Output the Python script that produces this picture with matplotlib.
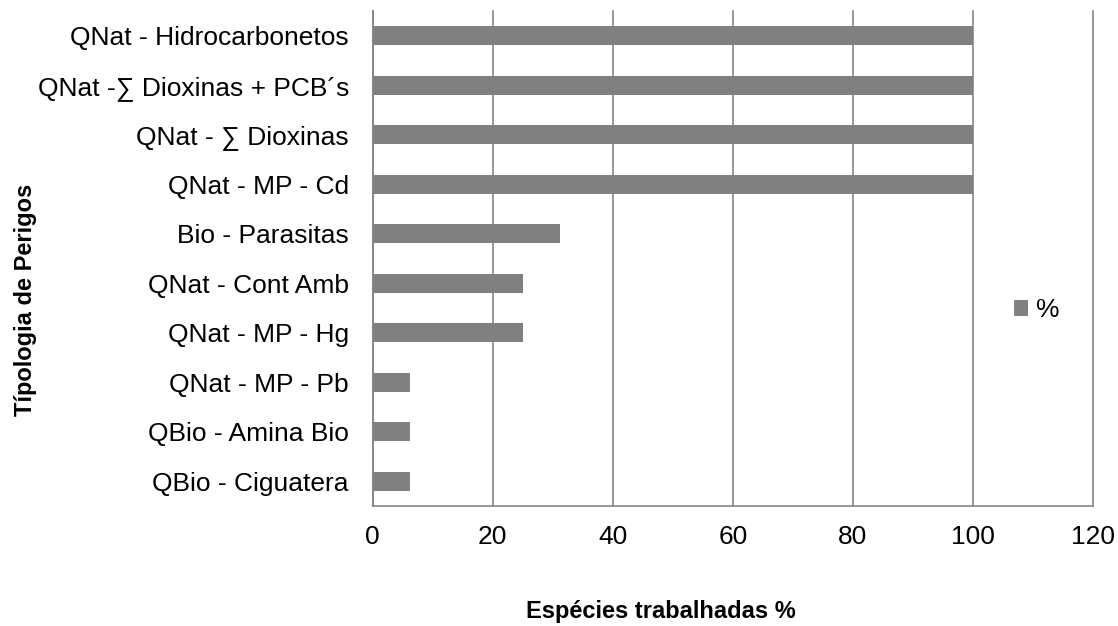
import matplotlib
matplotlib.use("Agg")
import matplotlib.pyplot as plt

plt.rcParams['font.family'] = ['Liberation Sans', 'DejaVu Sans']

categories = [
    "QBio - Ciguatera",
    "QBio - Amina Bio",
    "QNat - MP - Pb",
    "QNat - MP - Hg",
    "QNat - Cont Amb",
    "Bio - Parasitas",
    "QNat - MP - Cd",
    "QNat - \u2211 Dioxinas",
    "QNat -\u2211 Dioxinas + PCB\u00b4s",
    "QNat - Hidrocarbonetos",
]
values = [6.25, 6.25, 6.25, 25, 25, 31.25, 100, 100, 100, 100]
xticks = [0, 20, 40, 60, 80, 100, 120]

fig = plt.figure(figsize=(11.18, 6.26), dpi=100)
# plot area: x 372..1093 px, y 11..506 px (from top)
ax = fig.add_axes([0.3332, 0.1917, 0.6445, 0.7907])

ax.barh(range(len(categories)), values, height=0.39, color="#808080", label="%", zorder=3)

ax.set_xlim(0, 120)
ax.set_ylim(-0.5, len(categories) - 0.5)
ax.set_xticks(xticks)
ax.set_yticks(range(len(categories)))
ax.set_yticklabels(categories)
ax.tick_params(axis="both", length=0, labelsize=19, colors="black")
ax.tick_params(axis="x", pad=14)
ax.tick_params(axis="y", pad=17)
ax.grid(axis="x", color="#868686", linewidth=1.2, zorder=0)
for gl in ax.get_xgridlines():
    gl.set_clip_on(False)

for s in ["top", "right"]:
    ax.spines[s].set_visible(False)
for s in ["left", "bottom"]:
    ax.spines[s].set_color("#868686")
    ax.spines[s].set_linewidth(1.2)

ax.set_xlabel("Espécies trabalhadas %", fontsize=17, fontweight="bold")
ax.set_ylabel("Típologia de Perigos", fontsize=17, fontweight="bold")
ax.xaxis.set_label_coords(0.40, -0.19)
ax.yaxis.set_label_coords(-0.465, 0.417)

leg = ax.legend(loc="center left", bbox_to_anchor=(0.89, 0.395), frameon=False,
                fontsize=19, handlelength=0.55, handleheight=0.55, handletextpad=0.3,
                borderaxespad=0, borderpad=0)

fig.savefig("out.png", dpi=100)
